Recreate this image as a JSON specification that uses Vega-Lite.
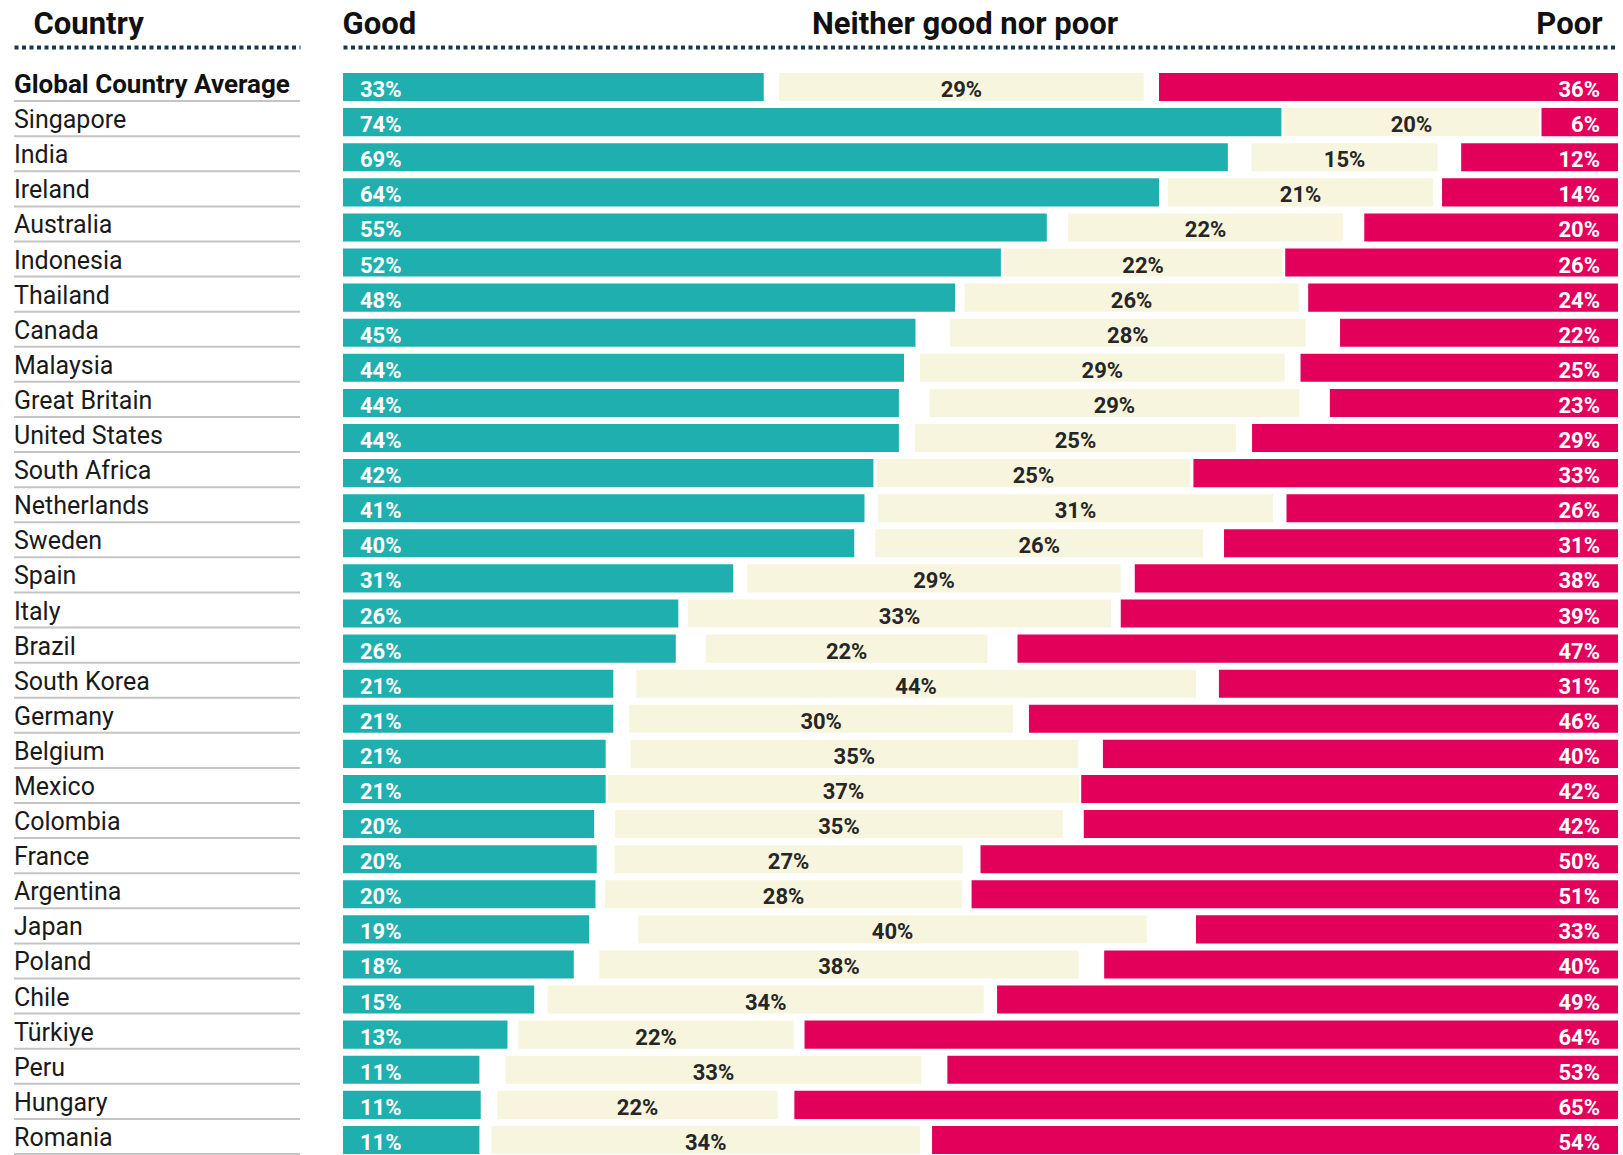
{
  "$schema": "https://vega.github.io/schema/vega-lite/v6.json",
  "padding": {"left": 13, "top": 7.5, "right": 0, "bottom": 0},
  "background": "white",
  "config": {"view": {"stroke": null}, "font": "Roboto"},
  "data": {"values": [
    {"country": "Global Country Average", "good": 0.33, "neither": 0.286, "poor": 0.36},
    {"country": "Singapore", "good": 0.736, "neither": 0.2, "poor": 0.06},
    {"country": "India", "good": 0.694, "neither": 0.146, "poor": 0.123},
    {"country": "Ireland", "good": 0.64, "neither": 0.208, "poor": 0.138},
    {"country": "Australia", "good": 0.552, "neither": 0.216, "poor": 0.199},
    {"country": "Indonesia", "good": 0.516, "neither": 0.218, "poor": 0.261},
    {"country": "Thailand", "good": 0.48, "neither": 0.262, "poor": 0.243},
    {"country": "Canada", "good": 0.449, "neither": 0.279, "poor": 0.218},
    {"country": "Malaysia", "good": 0.44, "neither": 0.286, "poor": 0.249},
    {"country": "Great Britain", "good": 0.436, "neither": 0.29, "poor": 0.226},
    {"country": "United States", "good": 0.436, "neither": 0.252, "poor": 0.287},
    {"country": "South Africa", "good": 0.416, "neither": 0.246, "poor": 0.333},
    {"country": "Netherlands", "good": 0.409, "neither": 0.31, "poor": 0.26},
    {"country": "Sweden", "good": 0.401, "neither": 0.257, "poor": 0.309},
    {"country": "Spain", "good": 0.306, "neither": 0.293, "poor": 0.379},
    {"country": "Italy", "good": 0.263, "neither": 0.332, "poor": 0.39},
    {"country": "Brazil", "good": 0.261, "neither": 0.221, "poor": 0.471},
    {"country": "South Korea", "good": 0.212, "neither": 0.439, "poor": 0.313},
    {"country": "Germany", "good": 0.212, "neither": 0.301, "poor": 0.462},
    {"country": "Belgium", "good": 0.206, "neither": 0.351, "poor": 0.404},
    {"country": "Mexico", "good": 0.206, "neither": 0.37, "poor": 0.421},
    {"country": "Colombia", "good": 0.197, "neither": 0.351, "poor": 0.419},
    {"country": "France", "good": 0.199, "neither": 0.273, "poor": 0.5},
    {"country": "Argentina", "good": 0.198, "neither": 0.28, "poor": 0.507},
    {"country": "Japan", "good": 0.193, "neither": 0.399, "poor": 0.331},
    {"country": "Poland", "good": 0.181, "neither": 0.376, "poor": 0.403},
    {"country": "Chile", "good": 0.15, "neither": 0.342, "poor": 0.487},
    {"country": "Türkiye", "good": 0.129, "neither": 0.216, "poor": 0.638},
    {"country": "Peru", "good": 0.107, "neither": 0.326, "poor": 0.526},
    {"country": "Hungary", "good": 0.108, "neither": 0.22, "poor": 0.646},
    {"country": "Romania", "good": 0.107, "neither": 0.336, "poor": 0.538}
  ]},
  "spacing": 41,
  "hconcat": [
    {
      "width": 286,
      "height": 1088,
      "encoding": {
        "y": {"field": "country", "type": "nominal", "sort": null, "scale": {"paddingInner": 0.2, "paddingOuter": 0.1}, "axis": null}
      },
      "layer": [
        {
          "mark": {"type": "rule", "color": "#c4c4c4", "strokeWidth": 2},
          "encoding": {
            "x": {"datum": 0, "type": "quantitative", "scale": {"domain": [0, 1], "nice": false},
              "axis": {"orient": "top", "values": [0], "labelExpr": "'Country'", "labelAlign": "left", "labelOffset": 19,
                "labelFont": "Roboto", "labelFontSize": 31, "labelFontWeight": "bold", "labelColor": "#111111",
                "labelBaseline": "alphabetic", "labelPadding": 14, "labelFlush": false, "labelOverlap": false, "labelBound": false, "labelLimit": 0,
                "ticks": false, "tickSize": 0, "grid": false, "domainDash": [4, 3.5], "domainWidth": 4, "domainColor": "#17394d", "domainCap": "butt",
                "offset": 22.5, "title": null}},
            "x2": {"datum": 1},
            "y": {"field": "country", "type": "nominal", "sort": null, "bandPosition": 1}
          }
        },
        {
          "mark": {"type": "text", "align": "left", "baseline": "alphabetic", "dy": 6, "font": "Roboto", "fontSize": 25, "fontWeight": "normal", "color": "#1a1a1a"},
          "encoding": {
            "x": {"datum": 0, "type": "quantitative"},
            "text": {"condition": {"test": "datum.country == 'Global Country Average'", "value": ""}, "field": "country", "type": "nominal"}
          }
        },
        {
          "mark": {"type": "text", "align": "left", "baseline": "alphabetic", "dy": 6, "font": "Roboto", "fontSize": 26, "fontWeight": "bold", "color": "#111111"},
          "encoding": {
            "x": {"datum": 0, "type": "quantitative"},
            "text": {"condition": {"test": "datum.country != 'Global Country Average'", "value": ""}, "field": "country", "type": "nominal"}
          }
        }
      ]
    },
    {
      "width": 1275,
      "height": 1088,
      "transform": [
        {"calculate": "(datum.good + 1 - datum.poor) / 2", "as": "mid"},
        {"calculate": "datum.mid - datum.neither / 2", "as": "n0"},
        {"calculate": "datum.mid + datum.neither / 2", "as": "n1"},
        {"calculate": "1 - datum.poor", "as": "p0"}
      ],
      "encoding": {
        "y": {"field": "country", "type": "nominal", "sort": null, "scale": {"paddingInner": 0.2, "paddingOuter": 0.1}, "axis": null}
      },
      "layer": [
        {
          "mark": {"type": "bar", "color": "#1fafae"},
          "encoding": {
            "x": {"field": "good", "type": "quantitative", "scale": {"domain": [0, 1], "nice": false, "zero": false},
              "axis": {"orient": "top", "values": [0, 0.5, 1],
                "labelExpr": "datum.value == 0 ? 'Good' : datum.value == 1 ? 'Poor' : 'Neither good nor poor'",
                "labelAlign": {"condition": [{"test": "datum.value == 0", "value": "left"}, {"test": "datum.value == 1", "value": "right"}], "value": "center"},
                "labelOffset": {"condition": {"test": "datum.value == 0", "value": -1}, "value": -16},
                "labelFont": "Roboto", "labelFontSize": 31, "labelFontWeight": "bold", "labelColor": "#111111",
                "labelBaseline": "alphabetic", "labelPadding": 14, "labelFlush": false, "labelOverlap": false, "labelBound": false, "labelLimit": 0,
                "ticks": false, "tickSize": 0, "grid": false, "domainDash": [4, 3.5], "domainWidth": 4, "domainColor": "#17394d", "domainCap": "butt",
                "offset": 22.5, "title": null}},
            "x2": {"datum": 0}
          }
        },
        {
          "mark": {"type": "bar", "color": "#f7f5de"},
          "encoding": {
            "x": {"field": "n0", "type": "quantitative"},
            "x2": {"field": "n1"}
          }
        },
        {
          "mark": {"type": "bar", "color": "#e2005a"},
          "encoding": {
            "x": {"field": "p0", "type": "quantitative"},
            "x2": {"datum": 1}
          }
        },
        {
          "mark": {"type": "text", "align": "left", "baseline": "alphabetic", "dx": 17, "dy": 10, "font": "Roboto", "fontSize": 22, "fontWeight": "bold", "color": "#ffffff"},
          "encoding": {
            "x": {"datum": 0, "type": "quantitative"},
            "text": {"field": "good", "type": "quantitative", "format": ".0%"}
          }
        },
        {
          "mark": {"type": "text", "align": "center", "baseline": "alphabetic", "dy": 10, "font": "Roboto", "fontSize": 22, "fontWeight": "bold", "color": "#262626"},
          "encoding": {
            "x": {"field": "mid", "type": "quantitative"},
            "text": {"field": "neither", "type": "quantitative", "format": ".0%"}
          }
        },
        {
          "mark": {"type": "text", "align": "right", "baseline": "alphabetic", "dx": -18, "dy": 10, "font": "Roboto", "fontSize": 22, "fontWeight": "bold", "color": "#ffffff"},
          "encoding": {
            "x": {"datum": 1, "type": "quantitative"},
            "text": {"field": "poor", "type": "quantitative", "format": ".0%"}
          }
        }
      ]
    }
  ]
}
